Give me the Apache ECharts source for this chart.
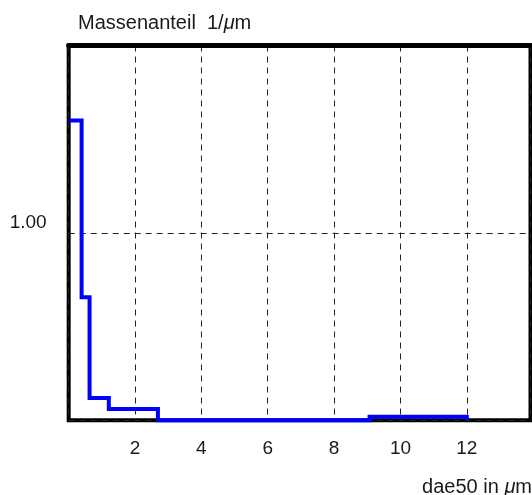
<!DOCTYPE html>
<html>
<head>
<meta charset="utf-8">
<script src="https://cdn.jsdelivr.net/npm/echarts@6/dist/echarts.min.js"></script>
<style>
html,body{margin:0;padding:0;background:#fff;}
#chart{width:532px;height:495px;}
</style>
</head>
<body>
<div id="chart"></div>
<script>
// Data (step histogram)
const binEdges = [0, 0.39, 0.63, 1.21, 2.69, 9.07, 12.0];
const massFraction = [1.6, 0.657, 0.119, 0.06, 0, 0.019];
const xTickLabels = ['2', '4', '6', '8', '10', '12'];
const yTickLabels = ['1.00'];
const yTickValues = [1];
const titleText = 'Massenanteil  1/{i|\u03bc}m';
const xNameText = 'dae50 in {i|\u03bc}m';

const stepPoints = [];
for (let i = 0; i < massFraction.length; i++) {
  stepPoints.push([binEdges[i], massFraction[i]]);
  stepPoints.push([binEdges[i + 1], massFraction[i]]);
}
stepPoints.push([binEdges[binEdges.length - 1], 0]);

const FONT = '"Liberation Sans", Arial, Helvetica, sans-serif';
const TXT = '#1a1a1a';
const FS = 19;
const FT = 20;

const chart = echarts.init(document.getElementById('chart'), null, {renderer: 'canvas'});
chart.setOption({
  animation: false,
  backgroundColor: '#fff',
  title: [
    {
      text: titleText, left: 73, top: 8,
      textStyle: {fontFamily: FONT, fontSize: FT, fontWeight: 'normal', color: TXT,
        rich: {i: {fontFamily: FONT, fontSize: FT, fontStyle: 'italic', color: TXT}}}
    },
    {
      text: xNameText, right: -5, top: 472,
      textStyle: {fontFamily: FONT, fontSize: FT, fontWeight: 'normal', color: TXT,
        rich: {i: {fontFamily: FONT, fontSize: FT, fontStyle: 'italic', color: TXT}}}
    }
  ],
  grid: {
    left: 68.67, right: 1.5, top: 45.5, bottom: 74.7,
    show: true, borderColor: '#000', borderWidth: 4, backgroundColor: 'transparent'
  },
  xAxis: [
    {
      type: 'value', min: 0, max: 13.92, interval: 2,
      axisLine: {show: false}, axisTick: {show: false},
      splitLine: {show: true, lineStyle: {color: '#222', width: 1, type: [6, 5]}},
      axisLabel: {
        margin: 19, fontFamily: FONT, fontSize: FS, color: TXT,
        showMinLabel: false, showMaxLabel: false,
        formatter: function (v) {
          const s = String(v);
          return xTickLabels.indexOf(s) >= 0 ? s : '';
        }
      }
    },
    {
      type: 'value', position: 'top', min: 0, max: 13.92,
      axisLine: {show: true, lineStyle: {color: '#000', width: 5}},
      axisTick: {show: false}, axisLabel: {show: false}, splitLine: {show: false}
    }
  ],
  yAxis: {
    type: 'value', min: 0, max: 2, interval: 1,
    axisLine: {show: false}, axisTick: {show: false},
    splitLine: {show: true, lineStyle: {color: '#222', width: 1, type: [6, 5]}},
    axisLabel: {
      margin: 22, fontFamily: FONT, fontSize: FS, color: TXT,
      verticalAlign: 'bottom', lineHeight: 20,
      formatter: function (v) {
        const k = yTickValues.indexOf(v);
        return k >= 0 ? yTickLabels[k] : '';
      }
    }
  },
  series: [{
    type: 'line', xAxisIndex: 0, data: stepPoints,
    showSymbol: false, symbol: 'none', clip: false, z: 5,
    lineStyle: {color: '#0000ff', width: 4, join: 'miter', cap: 'butt'}
  }]
});
</script>
</body>
</html>
